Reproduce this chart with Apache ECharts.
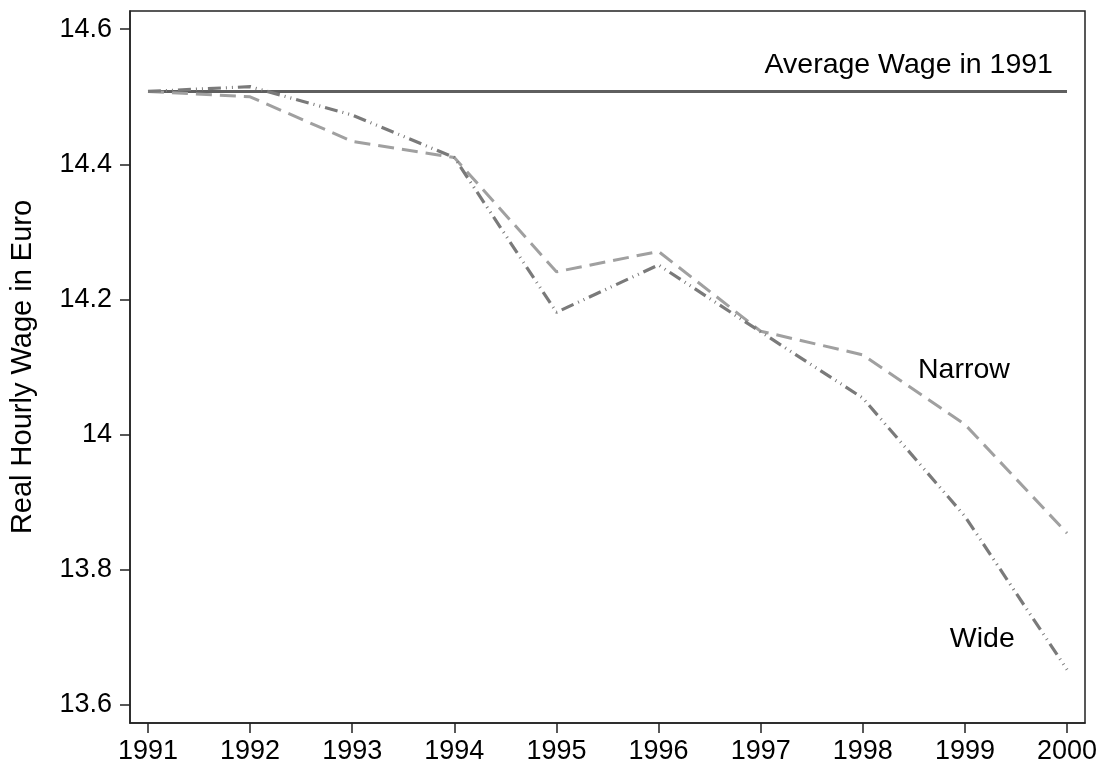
<!DOCTYPE html>
<html style="height: 100%">
   <head>
       <meta charset="utf-8">
       <title>Real Hourly Wage</title>
       <script src="https://cdn.jsdelivr.net/npm/echarts@6/dist/echarts.min.js"></script>
   </head>
   <body style="height: 100%; margin: 0; background: #fff">
       <div id="container" style="width: 1109px; height: 772px"></div>
       <script type="text/javascript">

// data
const years = [1991, 1992, 1993, 1994, 1995, 1996, 1997, 1998, 1999, 2000];
const narrowWage = [14.508, 14.500, 14.434, 14.410, 14.241, 14.271, 14.153, 14.118, 14.015, 13.854];
const wideWage = [14.508, 14.515, 14.473, 14.410, 14.181, 14.251, 14.152, 14.054, 13.879, 13.652];
const avgWage1991 = 14.508;
const yTicks = [13.6, 13.8, 14, 14.2, 14.4, 14.6];

// text labels placed in data units
const avgLabelAt = [1998.45, 14.547];
const narrowLabelAt = [1998.99, 14.096];
const wideLabelAt = [1999.17, 13.697];

const font = 'Liberation Sans, Arial, sans-serif';

let dom = document.getElementById('container');
let chart = echarts.init(dom, null, { renderer: 'canvas' });

function pairs(vals) {
    return years.map(function (y, i) { return [y, vals[i]]; });
}

function textMark(text, coord) {
    return {
        symbol: 'circle',
        symbolSize: 0,
        silent: true,
        label: {
            show: true,
            position: 'inside',
            formatter: text,
            color: '#000',
            fontSize: 28.5,
            fontFamily: font
        },
        data: [{ coord: coord }]
    };
}

chart.setOption({
    animation: false,
    grid: {
        left: 129, right: 24, top: 11, bottom: 49,
        show: true,
        borderColor: '#222',
        borderWidth: 1.5
    },
    xAxis: {
        type: 'value',
        min: 1990.824,
        max: 2000.176,
        splitLine: { show: false },
        axisLine: { show: true, lineStyle: { color: '#222', width: 1.5 } },
        axisTick: { show: true, length: 10, customValues: years, lineStyle: { color: '#222', width: 1.5 } },
        axisLabel: {
            customValues: years,
            color: '#000',
            fontSize: 27,
            fontFamily: font,
            margin: 15,
            formatter: function (v) { return String(v); }
        }
    },
    yAxis: {
        type: 'value',
        min: 13.573,
        max: 14.627,
        name: 'Real Hourly Wage in Euro',
        nameLocation: 'middle',
        nameGap: 93,
        nameTextStyle: { color: '#000', fontSize: 29, fontFamily: font },
        splitLine: { show: false },
        axisLine: { show: true, lineStyle: { color: '#222', width: 1.5 } },
        axisTick: { show: true, length: 10, customValues: yTicks, lineStyle: { color: '#222', width: 1.5 } },
        axisLabel: {
            customValues: yTicks,
            color: '#000',
            fontSize: 27,
            fontFamily: font,
            margin: 18,
            formatter: function (v) { return String(Math.round(v * 10) / 10); }
        }
    },
    series: [
        {
            name: 'Average',
            type: 'line',
            showSymbol: false,
            data: pairs(years.map(function () { return avgWage1991; })),
            lineStyle: { color: '#5f5f5f', width: 3 },
            z: 2,
            markPoint: textMark('Average Wage in 1991', avgLabelAt)
        },
        {
            name: 'Narrow',
            type: 'line',
            showSymbol: false,
            data: pairs(narrowWage),
            lineStyle: { color: '#a0a0a0', width: 3, type: [16, 8] },
            z: 3,
            markPoint: textMark('Narrow', narrowLabelAt)
        },
        {
            name: 'Wide',
            type: 'line',
            showSymbol: false,
            data: pairs(wideWage),
            lineStyle: { color: '#7a7a7a', width: 3.2, type: [13, 5, 1, 5, 1, 5] },
            z: 4,
            markPoint: textMark('Wide', wideLabelAt)
        }
    ]
});

       </script>
   </body>
</html>
